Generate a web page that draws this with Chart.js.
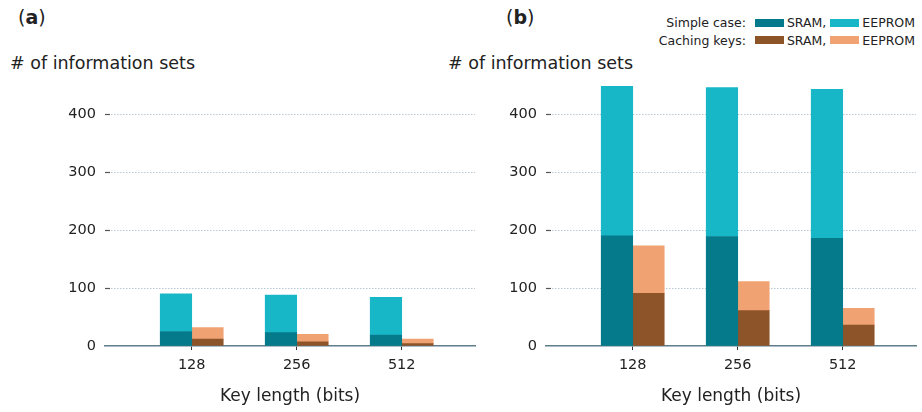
<!DOCTYPE html>
<html>
<head>
<meta charset="utf-8">
<script src="https://cdn.jsdelivr.net/npm/chart.js@4.4.1/dist/chart.umd.min.js"></script>
<style>
  html, body { margin: 0; padding: 0; background: #fff; }
  body { width: 922px; height: 412px; position: relative; overflow: hidden;
         font-family: "DejaVu Sans", sans-serif; color: #222; }
  canvas { position: absolute; top: 0; }
  #chartA { left: 0; }
  #chartB { left: 441px; }
  .panel-label { position: absolute; top: 4px; font-size: 19px; line-height: 26px; }
  .panel-label b { font-weight: bold; }
  .y-title { position: absolute; top: 52px; font-size: 17.5px; line-height: 22px; white-space: nowrap; }
  .legend { position: absolute; top: 14px; right: 7px; font-size: 12.5px; line-height: 17.5px;
            display: grid; grid-template-columns: auto auto auto auto auto; align-items: center;
            column-gap: 0; }
  .legend .cap { text-align: right; padding-right: 9px; }
  .legend .sw { width: 29px; height: 8px; margin-right: 3px; }
  .legend .nm { padding-right: 4px; }
</style>
</head>
<body>
<div class="panel-label" style="left:18px">(<b>a</b>)</div>
<div class="panel-label" style="left:506px">(<b>b</b>)</div>
<div class="y-title" style="left:10px"># of information sets</div>
<div class="y-title" style="left:448px"># of information sets</div>
<div class="legend" id="legend"></div>
<canvas id="chartA" width="480" height="412"></canvas>
<canvas id="chartB" width="481" height="412"></canvas>
<script>
// Key lengths on the x axis
const keyLengths = ['128', '256', '512'];
const yTicks = [0, 100, 200, 300, 400];

// (a) information sets per memory type
const aSimpleSram = [25, 23, 19];
const aSimpleEeprom = [65, 65, 65];
const aCachingSram = [12, 7, 4];
const aCachingEeprom = [20, 13, 8];

// (b) information sets per memory type
const bSimpleSram = [190, 189, 186];
const bSimpleEeprom = [258, 257, 257];
const bCachingSram = [91, 61, 36];
const bCachingEeprom = [82, 50, 29];

const colors = {
  simpleSram: '#047a8a',
  simpleEeprom: '#18b7c8',
  cachingSram: '#8d5429',
  cachingEeprom: '#f0a272'
};

// Legend (HTML)
const legendRows = [
  ['Simple case:', colors.simpleSram, colors.simpleEeprom],
  ['Caching keys:', colors.cachingSram, colors.cachingEeprom]
];
const legendEl = document.getElementById('legend');
legendRows.forEach(([cap, c1, c2]) => {
  legendEl.insertAdjacentHTML('beforeend',
    `<span class="cap">${cap}</span><span class="sw" style="background:${c1}"></span>` +
    `<span class="nm">SRAM,</span><span class="sw" style="background:${c2}"></span><span>EEPROM</span>`);
});

const toPoints = arr => arr.map((v, i) => ({ x: i, y: v }));

// Short dark tick dashes at the start of each horizontal grid line
const yDashes = {
  id: 'yDashes',
  afterDatasetsDraw(chart) {
    const { ctx, chartArea, scales } = chart;
    ctx.save();
    ctx.strokeStyle = '#555';
    ctx.lineWidth = 1.2;
    yTicks.forEach(t => {
      if (t === 0) return;
      const y = Math.round(scales.y.getPixelForValue(t)) + 0.5;
      ctx.beginPath();
      ctx.moveTo(chartArea.left, y);
      ctx.lineTo(chartArea.left + 5, y);
      ctx.stroke();
    });
    ctx.restore();
  }
};

function makePanel(id, simpleSram, simpleEeprom, cachingSram, cachingEeprom, rightPad) {
  return new Chart(document.getElementById(id), {
    type: 'bar',
    data: {
      datasets: [
        { label: 'Simple case: SRAM', stack: 'simple', data: toPoints(simpleSram), backgroundColor: colors.simpleSram },
        { label: 'Simple case: EEPROM', stack: 'simple', data: toPoints(simpleEeprom), backgroundColor: colors.simpleEeprom },
        { label: 'Caching keys: SRAM', stack: 'caching', data: toPoints(cachingSram), backgroundColor: colors.cachingSram },
        { label: 'Caching keys: EEPROM', stack: 'caching', data: toPoints(cachingEeprom), backgroundColor: colors.cachingEeprom }
      ]
    },
    options: {
      responsive: false,
      animation: false,
      layout: { padding: { top: 79.5, left: 0, right: rightPad, bottom: 0 } },
      datasets: { bar: { barThickness: 31.5, borderWidth: 0 } },
      plugins: { legend: { display: false }, tooltip: { enabled: false } },
      scales: {
        x: {
          type: 'linear',
          offset: false,
          min: -0.826,
          max: 2.698,
          afterBuildTicks: s => { s.ticks = keyLengths.map((_, i) => ({ value: i })); },
          afterFit: s => { s.height = 66; },
          ticks: {
            callback: v => keyLengths[v],
            color: '#222',
            padding: 7,
            font: { family: 'DejaVu Sans', size: 14.5 }
          },
          grid: { offset: false, drawOnChartArea: false, drawTicks: true, tickLength: 4, tickColor: '#333', tickWidth: 1 },
          border: { display: true, color: '#5f7d8a', width: 1.5 },
          title: {
            display: true,
            text: 'Key length (bits)',
            color: '#222',
            font: { family: 'DejaVu Sans', size: 17 },
            padding: { top: 0, bottom: 5 }
          }
        },
        y: {
          stacked: true,
          min: 0,
          max: 460,
          afterBuildTicks: s => { s.ticks = yTicks.map(v => ({ value: v })); },
          afterFit: s => { s.width = 105; },
          ticks: {
            color: '#222',
            padding: 9,
            font: { family: 'DejaVu Sans', size: 14.5 }
          },
          grid: {
            drawTicks: false,
            color: ctx => (ctx.tick && ctx.tick.value === 0) ? 'rgba(0,0,0,0)' : '#b9c9d3',
            lineWidth: 1
          },
          border: { display: false, dash: [1.5, 1.5] }
        }
      }
    },
    plugins: [yDashes]
  });
}

makePanel('chartA', aSimpleSram, aSimpleEeprom, aCachingSram, aCachingEeprom, 5);
makePanel('chartB', bSimpleSram, bSimpleEeprom, bCachingSram, bCachingEeprom, 6);
</script>
</body>
</html>
